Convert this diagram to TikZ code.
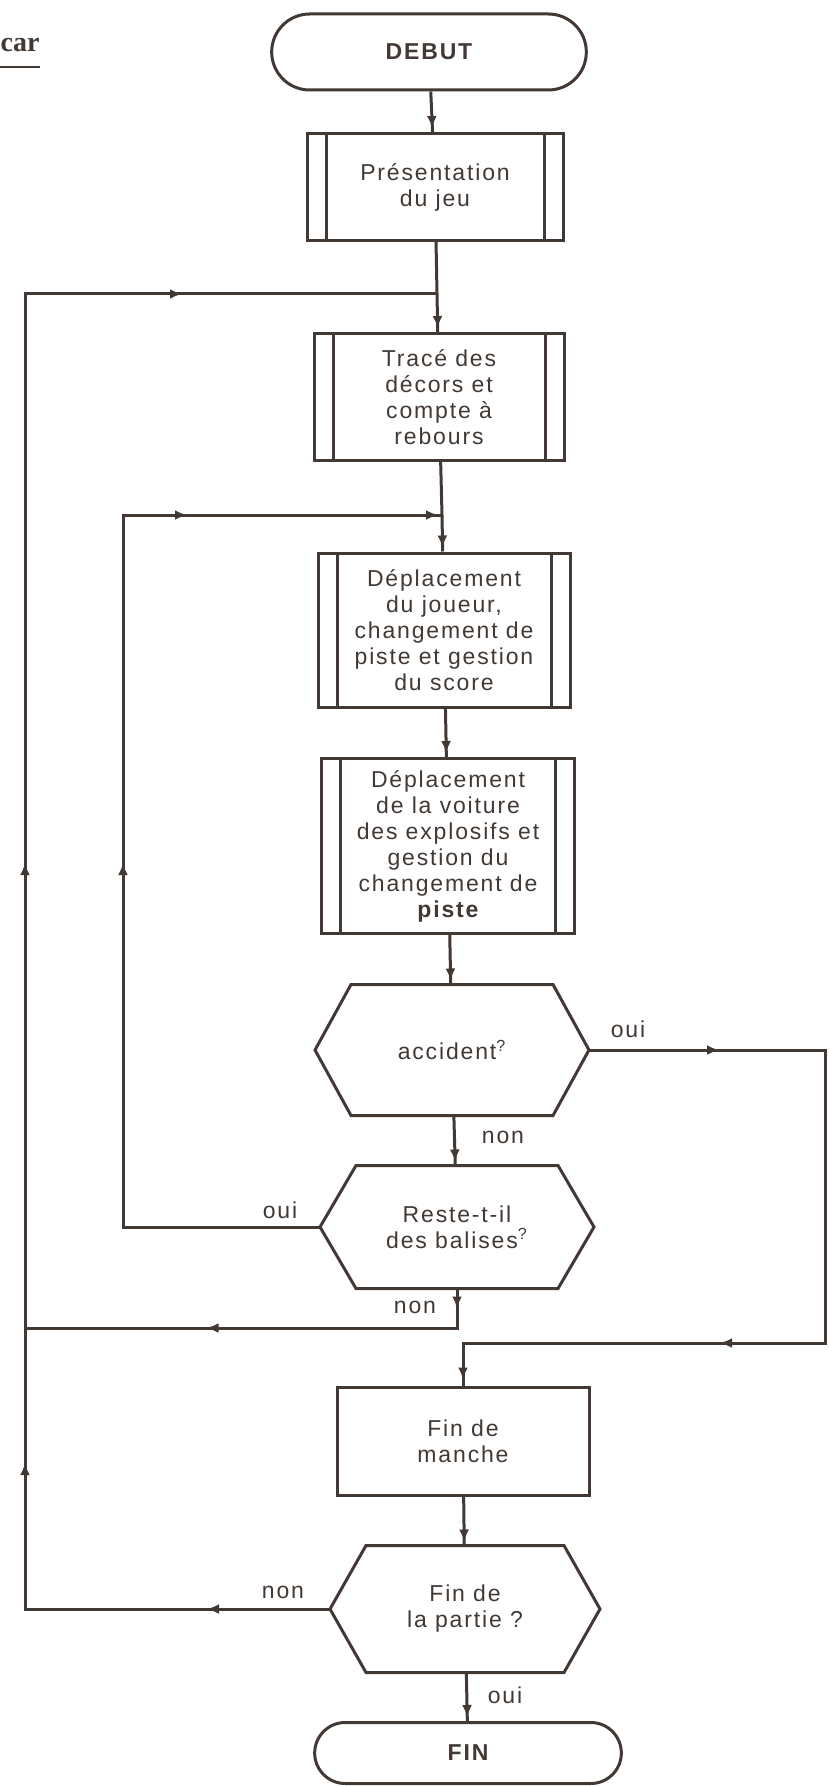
\documentclass[tikz,border=0pt]{standalone}
\usepackage{fontspec}
\setmainfont[LetterSpace=8]{Liberation Sans}
\newfontfamily\titlefont{Liberation Serif}
\usetikzlibrary{shapes.misc, arrows.meta, decorations.markings}
\definecolor{ink}{RGB}{66,57,52}

\begin{document}
\begin{tikzpicture}[x=0.5pt, y=-0.5pt,
    every node/.style={font=\fontsize{11.5}{13}\selectfont, text=ink},
    link/.style={color=ink, line width=1.5pt, line join=miter},
    mid/.style={postaction={decorate, decoration={markings, mark=at position #1 with {\arrow{Latex[length=6pt, width=5pt]}}}}},
    flow/.style={link, mid=-2pt},
    term/.style={rounded rectangle, draw=ink, line width=1.5pt, font=\fontsize{11.5}{13}\selectfont\bfseries},
    proc/.style={rectangle, draw=ink, line width=1.5pt, align=center},
    subproc/.style={proc, path picture={
        \draw[ink, line width=1.5pt]
          ([xshift=9.5pt]path picture bounding box.north west) -- ([xshift=9.5pt]path picture bounding box.south west)
          ([xshift=-9.5pt]path picture bounding box.north east) -- ([xshift=-9.5pt]path picture bounding box.south east);}},
    decision/.style={rectangle, outer sep=0pt, align=center},
    lbl/.style={inner sep=1pt}
]
\path[fill=white] (0,0) rectangle (829,1786);
\useasboundingbox (0,0) rectangle (829,1786);

% titre
\node[font=\titlefont\bfseries\fontsize{14}{14}\selectfont, anchor=base east, inner sep=0pt] (titre) at (40,52) {car};
\draw[link, line width=1.1pt] (0,67) -- (40,67);

% blocs
\node[term, minimum width=164pt, minimum height=38pt] (debut) at (429,52) {DEBUT};
\node[subproc, minimum width=128pt, minimum height=53.5pt] (pres) at (435,187) {Présentation\\du jeu};
\node[subproc, minimum width=125pt, minimum height=63.5pt] (trace) at (439,397) {Tracé des\\décors et\\compte à\\rebours};
\node[subproc, minimum width=126pt, minimum height=77pt] (joueur) at (444,630) {Déplacement\\du joueur,\\changement de\\piste et gestion\\du score};
\node[subproc, minimum width=126.5pt, minimum height=87.5pt] (voiture) at (448,846) {Déplacement\\de la voiture\\des explosifs et\\gestion du\\changement de\\{\bfseries piste}};
\node[decision, minimum width=137pt, minimum height=65.5pt] (accident) at (452,1050) {accident\textsuperscript{?}};
\node[decision, minimum width=137pt, minimum height=61.5pt] (balises) at (457,1227) {Reste-t-il\\des balises\textsuperscript{?}};
\node[proc, minimum width=126pt, minimum height=54pt] (manche) at (463,1441) {Fin de\\manche};
\node[decision, minimum width=135pt, minimum height=63.5pt] (partie) at (465,1609) {Fin de\\la partie ?};
\node[term, minimum width=160pt, minimum height=30.5pt] (fin) at (468,1753) {FIN};

% contours hexagonaux des tests
\foreach \n in {accident, balises, partie}
  \draw[link] (\n.west) -- ([xshift=18pt]\n.north west) -- ([xshift=-18pt]\n.north east)
    -- (\n.east) -- ([xshift=-18pt]\n.south east) -- ([xshift=18pt]\n.south west) -- cycle;

% points de jonction
\coordinate (j1) at (437,294);
\coordinate (j2) at (442,515);
\coordinate (cTL) at (25,294);
\coordinate (cJ) at (25,1328);
\coordinate (cBL) at (partie.west -| cTL);
\coordinate (rn) at (balises.south |- cJ);
\coordinate (cIT) at (123,515);
\coordinate (cIB) at (balises.west -| cIT);
\coordinate (cRB) at (825,1343);
\coordinate (cRT) at (accident.east -| cRB);
\coordinate (j3) at (manche.north |- cRB);

% liaisons
\draw[flow] (debut) -- (pres);
\draw[link] (pres) -- (j1);
\draw[flow] (j1) -- (trace);
\draw[link] (trace) -- (j2);
\draw[flow] (j2) -- (joueur);
\draw[flow] (joueur) -- (voiture);
\draw[flow] (voiture) -- (accident);
\draw[flow] (accident) -- (balises);
\draw[flow] (manche) -- (partie);
\draw[flow] (partie) -- (fin);

% boucles
\draw[link, mid=61.5pt, mid=225.5pt, mid=525.5pt, mid=888.5pt] (partie.west) -- (cBL) -- (cJ) -- (cTL) -- (j1);
\draw[link, mid=10pt, mid=145pt] (balises.south) -- (rn) -- (cJ);
\draw[link, mid=280.5pt, mid=486.5pt, mid=-2pt] (balises.west) -- (cIB) -- (cIT) -- (j2);
\draw[link, mid=65pt, mid=317pt, mid=-3pt] (accident.east) -- (cRT) -- (cRB) -- (j3) -- (manche.north);

% etiquettes
\node[lbl] (oui1) at (628,1029) {oui};
\node[lbl] (non1) at (503,1137) {non};
\node[lbl] (oui2) at (280,1210) {oui};
\node[lbl] (non2) at (415,1307) {non};
\node[lbl] (non3) at (283,1592) {non};
\node[lbl] (oui3) at (505,1695) {oui};
\end{tikzpicture}
\end{document}
